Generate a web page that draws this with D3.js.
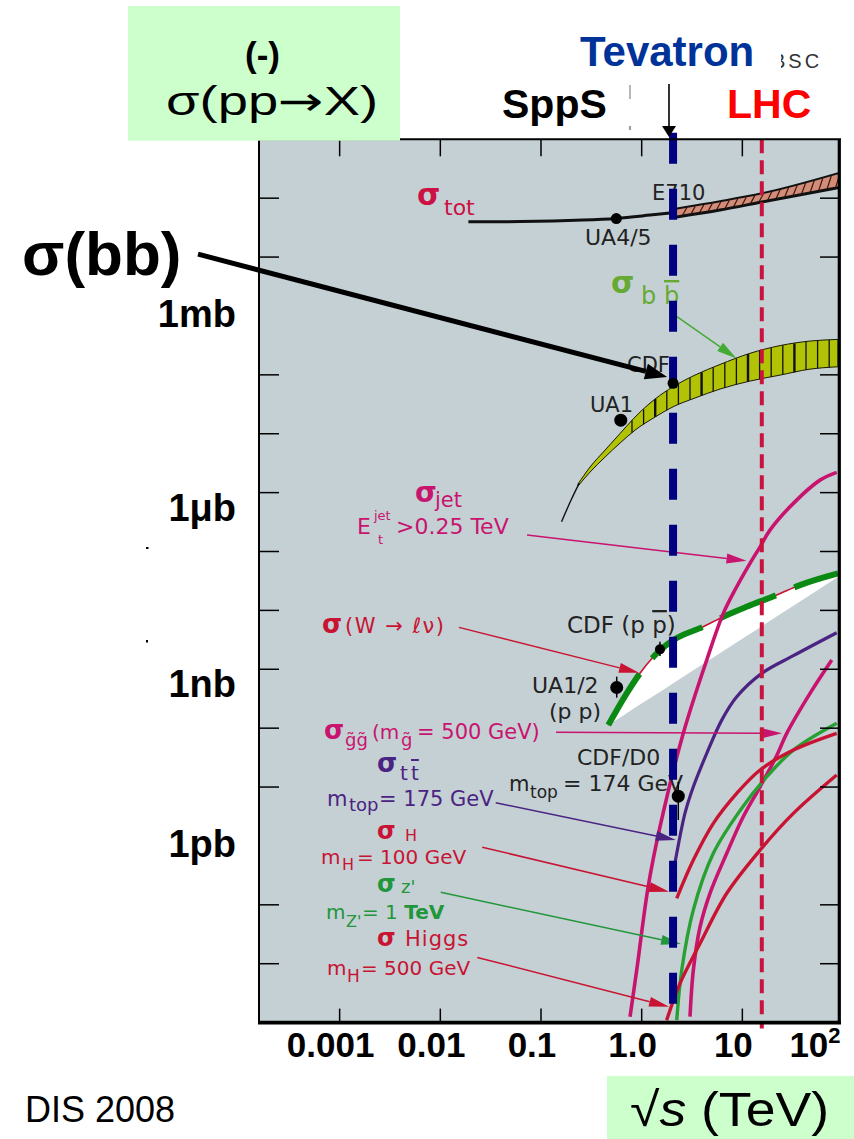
<!DOCTYPE html>
<html>
<head>
<meta charset="utf-8">
<script src="https://cdn.jsdelivr.net/npm/d3@7/dist/d3.min.js"></script>
<style>
html, body { margin: 0; padding: 0; background: #fff; }
svg { display: block; font-family: "Liberation Sans", Arial, sans-serif; }
</style>
</head>
<body>
<svg id="chart" width="854" height="1139"></svg>
<script>
// Cross sections versus centre-of-mass energy.
// Energies are √s in TeV, cross sections in nb.

// ---------- axes ----------
const xTickValues = [0.001, 0.01, 0.1, 1, 10];
const xLabelValues = [0.001, 0.01, 0.1, 1, 10, 100];
const xLabelText = ["0.001", "0.01", "0.1", "1.0", "10", "10"];
const yTickValues = [1e8, 1e7, 1e5, 1e4, 1e3, 1e2, 1e1, 1, 1e-1, 1e-2, 1e-4, 1e-5];
const yLabelValues = [1e6, 1e3, 1, 1e-3];
const yLabelText = ["1mb", "1μb", "1nb", "1pb"];

// ---------- collider energies ----------
const tevatronEnergy = 2.05;
const lhcEnergy = 15.6;

// ---------- total cross section ----------
const totLine = [[0.019, 3.97e7], [0.062, 4.0e7], [0.26, 4.25e7], [0.56, 4.54e7], [1.21, 5.16e7], [1.91, 5.6e7], [2.23, 5.75e7]];
const totEnergy = [2.23, 6.0, 15.6, 90];
const totUpper = [6.7e7, 8.9e7, 1.21e8, 2.67e8];
const totLower = [4.8e7, 6.3e7, 8.6e7, 1.51e8];

// ---------- b bbar ----------
const bbEnergy = [0.233, 0.307, 0.433, 0.61, 0.859, 1.356, 2.05, 3.38, 6.0, 11.9, 23.7, 47, 89];
const bbUpper = [1.40e3, 2.72e3, 5.28e3, 1.01e4, 1.92e4, 3.88e4, 6.28e4, 9.9e4, 1.5e5, 2.32e5, 3.14e5, 3.75e5, 4.0e5];
const bbLower = [1.29e3, 2.23e3, 4.02e3, 6.95e3, 1.15e4, 1.92e4, 2.87e4, 4.04e4, 5.74e4, 7.84e4, 9.9e4, 1.25e5, 1.37e5];
const bbTail = [[0.160, 320], [0.199, 750], [0.24, 1450]];

// ---------- W -> l nu ----------
const wUpper = [[0.466, 0.113], [0.71, 0.39], [0.962, 0.853], [1.31, 1.63], [2.06, 3.13], [4.09, 5.28], [6.47, 7.8], [11.0, 11.5], [21.9, 18.2], [37.4, 26.9], [89, 42.5]];
const wLower = [[0.466, 0.113], [89, 36.8]];

// ---------- jets, new states, top, Higgs ----------
const jetCurve = [[0.766, 1.26e-6], [0.893, 7.8e-6], [1.16, 2.03e-4], [1.52, 2.1e-3], [2.59, 0.0817], [4.43, 1.44], [6.47, 8.91], [8.79, 25.2], [11.9, 63], [15.0, 120], [18.8, 231], [32.1, 657], [59, 1630], [86.5, 2210]];
const gluinoCurve = [[3.02, 1.26e-6], [3.26, 7.8e-6], [3.80, 4.2e-5], [4.77, 1.57e-4], [7.0, 7.5e-4], [10.2, 3.13e-3], [15.0, 0.0101], [21.9, 0.034], [27.6, 0.0817], [47, 0.39], [77.3, 1.44]];
const topCurve = [[2.14, 5.06e-4], [2.23, 7.5e-4], [2.69, 3.57e-3], [3.26, 0.0101], [4.43, 0.0373], [6.24, 0.137], [8.79, 0.342], [15.6, 0.853], [32.1, 1.7], [86.5, 4.17]];
const higgs100Curve = [[2.23, 1.29e-4], [3.26, 5.75e-4], [5.15, 2.42e-3], [8.79, 7.8e-3], [15.0, 0.0195], [32.1, 0.0425], [86.5, 0.0817]];
const zprimeCurve = [[2.23, 1.1e-6], [2.50, 7.8e-6], [3.26, 8.2e-5], [5.15, 7.5e-4], [9.5, 4.0e-3], [17.5, 0.015], [32.1, 0.0425], [86.5, 0.121]];
const higgs500Curve = [[1.77, 1.1e-6], [2.40, 4.6e-6], [3.80, 2.2e-5], [7.0, 1.57e-4], [15.0, 8.5e-4], [32.1, 3.57e-3], [86.5, 0.016]];

// ---------- measurements: [√s, σ, σlow, σhigh] ----------
const measurements = [
  { name: "UA4/5", v: [0.56, 4.5e7], r: 5.5 },
  { name: "E710", v: [2.05, 5.9e7], r: 4 },
  { name: "UA1", v: [0.62, 1.7e4], r: 6.5 },
  { name: "CDF", v: [2.05, 7.2e4], r: 5.5 },
  { name: "UA1/2", v: [0.565, 0.49, 0.33, 0.75], r: 6.5 },
  { name: "CDF W", v: [1.52, 2.18, 1.68, 2.94], r: 5 },
  { name: "CDF/D0", v: [2.31, 7.0e-3, 2.75e-3, 0.0123], r: 6.5 }
];

// ---------- annotation arrows: from [√s, σ] to [√s, σ] ----------
const arrowFrom = [[0.0726, 190], [2.24, 9.7e5], [0.0153, 5.15], [0.141, 0.0849], [0.0355, 5.42e-3], [0.0261, 9.5e-4], [0.0101, 1.63e-4], [0.0233, 1.28e-5]];
const arrowTo = [[11.0, 69.7], [8.75, 1.9e5], [0.941, 0.873], [24.8, 0.0817], [2.18, 1.26e-3], [1.87, 1.67e-4], [2.46, 2.16e-5], [1.87, 1.86e-6]];
const arrowColor = ["#c8146e", "#44aa33", "#c81432", "#c8146e", "#4b2382", "#c81432", "#22963a", "#c81432"];
const bbArrow = [[3.92e-5, 1.12e7], [1.79, 9.2e4]];

// ================= drawing =================
const svg = d3.select("#chart");
const plot = { left: 259, right: 838, top: 139.3, bottom: 1022.6 };

const x = d3.scaleLog().domain([Math.pow(10, -3.801), Math.pow(10, 1.95)]).range([plot.left, plot.right]);
const y = d3.scaleLog().domain([1e-6, 1e9]).range([plot.bottom, plot.top]);

const defs = svg.append("defs");
defs.append("clipPath").attr("id", "plotClip").append("rect")
  .attr("x", plot.left).attr("y", plot.top)
  .attr("width", plot.right - plot.left).attr("height", plot.bottom - plot.top);
defs.append("clipPath").attr("id", "bscClip").append("rect")
  .attr("x", 781).attr("y", 40).attr("width", 60).attr("height", 40);

// plot background
svg.append("rect")
  .attr("x", plot.left).attr("y", plot.top)
  .attr("width", plot.right - plot.left).attr("height", plot.bottom - plot.top)
  .attr("fill", "#c5d0d5");

const g = svg.append("g").attr("clip-path", "url(#plotClip)");

const line = d3.line().x(d => x(d[0])).y(d => y(d[1])).curve(d3.curveMonotoneX);
const smooth = d3.line().x(d => x(d[0])).y(d => y(d[1])).curve(d3.curveCatmullRom.alpha(0.5));

function interpLog(xs, ys, v) {
  const lv = Math.log10(v);
  for (let i = 0; i < xs.length - 1; i++) {
    const a = Math.log10(xs[i]), b = Math.log10(xs[i + 1]);
    if (lv >= a && lv <= b) {
      const t = (lv - a) / (b - a);
      return Math.pow(10, Math.log10(ys[i]) * (1 - t) + Math.log10(ys[i + 1]) * t);
    }
  }
  return lv < Math.log10(xs[0]) ? ys[0] : ys[ys.length - 1];
}

// ---- total cross section band ----
const totArea = d3.area()
  .x((d, i) => x(totEnergy[i]))
  .y0((d, i) => y(totLower[i]))
  .y1((d, i) => y(totUpper[i]))
  .curve(d3.curveMonotoneX);
g.append("path").datum(totEnergy).attr("d", totArea).attr("fill", "#d28c78");
for (let px = x(totEnergy[0]) + 6; px < plot.right - 2; px += 8.5) {
  const e0 = x.invert(px), e1 = x.invert(px + 4);
  g.append("line")
    .attr("x1", px).attr("y1", y(interpLog(totEnergy, totLower, e0)) - 1)
    .attr("x2", px + 4).attr("y2", y(interpLog(totEnergy, totUpper, e1)) + 1)
    .attr("stroke", "#3a1a10").attr("stroke-width", 1.2);
}
g.append("path").datum(totEnergy.map((e, i) => [e, totUpper[i]])).attr("d", line)
  .attr("fill", "none").attr("stroke", "#111").attr("stroke-width", 2);
g.append("path").datum(totEnergy.map((e, i) => [e, totLower[i]])).attr("d", line)
  .attr("fill", "none").attr("stroke", "#111").attr("stroke-width", 3);
g.append("path").datum(totLine).attr("d", smooth)
  .attr("fill", "none").attr("stroke", "#111").attr("stroke-width", 3);

// ---- b bbar band ----
const bbArea = d3.area()
  .x((d, i) => x(bbEnergy[i]))
  .y0((d, i) => y(bbLower[i]))
  .y1((d, i) => y(bbUpper[i]))
  .curve(d3.curveMonotoneX);
g.append("path").datum(bbEnergy).attr("d", bbArea)
  .attr("fill", "#b2c204").attr("stroke", "#1a1a00").attr("stroke-width", 1);
let hatchIndex = 0;
for (let px = 632; px < plot.right - 4; px += 11.6) {
  const e = x.invert(px);
  g.append("line")
    .attr("x1", px).attr("x2", px)
    .attr("y1", y(interpLog(bbEnergy, bbLower, e)))
    .attr("y2", y(interpLog(bbEnergy, bbUpper, e)))
    .attr("stroke", "#111").attr("stroke-width", hatchIndex % 4 === 2 ? 2.4 : 1.3);
  hatchIndex++;
}
g.append("path").datum(bbTail).attr("d", smooth)
  .attr("fill", "none").attr("stroke", "#111").attr("stroke-width", 1.4);

// ---- W band ----
const wLowerX = wLower.map(d => d[0]), wLowerY = wLower.map(d => d[1]);
const wArea = d3.area()
  .x(d => x(d[0]))
  .y1(d => y(d[1]))
  .y0(d => y(interpLog(wLowerX, wLowerY, d[0])))
  .curve(d3.curveMonotoneX);
g.append("path").datum(wUpper).attr("d", wArea).attr("fill", "#ffffff");
g.append("path").datum(wUpper).attr("d", line)
  .attr("fill", "none").attr("stroke", "#c81432").attr("stroke-width", 1.6);
g.append("path").datum(wUpper).attr("d", line)
  .attr("fill", "none").attr("stroke", "#0a8a12").attr("stroke-width", 6)
  .attr("stroke-dasharray", "60,20");

// ---- other curves ----
const curves = [
  { d: jetCurve, c: "#c8146e", w: 3.6 },
  { d: topCurve, c: "#4b2382", w: 3.2 },
  { d: gluinoCurve, c: "#c8146e", w: 3.6 },
  { d: zprimeCurve, c: "#28a032", w: 3.4 },
  { d: higgs100Curve, c: "#c81432", w: 3.4 },
  { d: higgs500Curve, c: "#c81432", w: 3.4 }
];
curves.forEach(cv => {
  g.append("path").datum(cv.d).attr("d", smooth)
    .attr("fill", "none").attr("stroke", cv.c).attr("stroke-width", cv.w)
    .attr("stroke-linecap", "butt");
});

// ---- in-plot labels ----
const labelFont = "'DejaVu Sans', Verdana, sans-serif";
const labels = [
  { fill: "#cc1144", spans: [{ t: "σ", x: 417, y: 205, s: 30, w: "bold" }, { t: "tot", x: 444, y: 215, s: 22 }] },
  { fill: "#222", spans: [{ t: "E710", x: 652, y: 200, s: 21 }] },
  { fill: "#222", spans: [{ t: "UA4/5", x: 585, y: 245, s: 22 }] },
  { fill: "#66aa33", spans: [{ t: "σ", x: 611, y: 293, s: 30, w: "bold" }, { t: "b", x: 641, y: 304, s: 24 }, { t: "b", x: 664, y: 304, s: 24, o: true }] },
  { fill: "#222", spans: [{ t: "CDF", x: 627, y: 372, s: 21 }] },
  { fill: "#222", spans: [{ t: "UA1", x: 590, y: 412, s: 21 }] },
  { fill: "#c8146e", spans: [{ t: "σ", x: 415, y: 502, s: 28, w: "bold" }, { t: "jet", x: 435, y: 507, s: 21 }] },
  { fill: "#c8146e", spans: [{ t: "E", x: 357, y: 534, s: 22 }, { t: "jet", x: 374, y: 520, s: 13 }, { t: "t", x: 378, y: 544, s: 13 }, { t: ">0.25 TeV", x: 396, y: 534, s: 22 }] },
  { fill: "#c81432", spans: [{ t: "σ", x: 322, y: 633, s: 26, w: "bold" }, { t: "(W → ℓν)", x: 345, y: 633, s: 21, ls: 1.5 }] },
  { fill: "#222", spans: [{ t: "CDF (p ", x: 567, y: 633, s: 23 }, { t: "p", s: 23, o: true }, { t: ")", s: 23 }] },
  { fill: "#222", spans: [{ t: "UA1/2", x: 532, y: 693, s: 22 }] },
  { fill: "#222", spans: [{ t: "(p p)", x: 549, y: 719, s: 22 }] },
  { fill: "#c8146e", spans: [{ t: "σ", x: 324, y: 739, s: 26, w: "bold" }, { t: "g̃g̃", x: 345, y: 746, s: 18 }, { t: "(m", x: 372, y: 739, s: 20 }, { t: "g̃", x: 401, y: 746, s: 18 }, { t: "= 500 GeV)", x: 417, y: 739, s: 21 }] },
  { fill: "#222", spans: [{ t: "CDF/D0", x: 577, y: 765, s: 22 }] },
  { fill: "#222", spans: [{ t: "m", x: 509, y: 791, s: 21 }, { t: "top", x: 530, y: 798, s: 17 }, { t: "= 174 GeV", x: 563, y: 791, s: 22 }] },
  { fill: "#4b2382", spans: [{ t: "σ", x: 377, y: 772, s: 26, w: "bold" }, { t: "t", x: 400, y: 780, s: 20 }, { t: "t", x: 411, y: 780, s: 20, o: true }] },
  { fill: "#4b2382", spans: [{ t: "m", x: 327, y: 806, s: 21 }, { t: "top", x: 349, y: 811, s: 18 }, { t: "= 175 GeV", x: 379, y: 806, s: 21 }] },
  { fill: "#c81432", spans: [{ t: "σ", x: 377, y: 839, s: 24, w: "bold" }, { t: "H", x: 405, y: 841, s: 16 }] },
  { fill: "#c81432", spans: [{ t: "m", x: 321, y: 864, s: 20 }, { t: "H", x: 342, y: 870, s: 16 }, { t: "= 100 GeV", x: 357, y: 864, s: 20 }] },
  { fill: "#22963a", spans: [{ t: "σ", x: 377, y: 891.5, s: 24, w: "bold" }, { t: "z'", x: 401, y: 893, s: 18 }] },
  { fill: "#22963a", spans: [{ t: "m", x: 326, y: 918.5, s: 20 }, { t: "Z'", x: 346, y: 927, s: 16 }, { t: "= 1 ", x: 362, y: 918.5, s: 20 }, { t: "TeV", s: 20, w: "bold" }] },
  { fill: "#c81432", spans: [{ t: "σ", x: 377, y: 946, s: 24, w: "bold" }, { t: "Higgs", x: 405, y: 946, s: 21, ls: 1 }] },
  { fill: "#c81432", spans: [{ t: "m", x: 327, y: 975, s: 20 }, { t: "H", x: 347, y: 982, s: 17 }, { t: "= 500 GeV", x: 361, y: 975, s: 20 }] }
];
const labelLayer = svg.append("g").attr("font-family", labelFont);
labels.forEach(lb => {
  const t = labelLayer.append("text").attr("fill", lb.fill);
  lb.spans.forEach(sp => {
    const s = t.append("tspan").text(sp.t).attr("font-size", sp.s);
    if (sp.x !== undefined) s.attr("x", sp.x);
    if (sp.y !== undefined) s.attr("y", sp.y);
    if (sp.w) s.attr("font-weight", sp.w);
    if (sp.o) s.attr("text-decoration", "overline");
    if (sp.ls) s.attr("letter-spacing", sp.ls);
  });
});

// ---- arrows ----
function arrow(parent, p0, p1, color, width, headLen, headHalf) {
  const ang = Math.atan2(p1[1] - p0[1], p1[0] - p0[0]);
  const bx = p1[0] - headLen * Math.cos(ang), by = p1[1] - headLen * Math.sin(ang);
  parent.append("line")
    .attr("x1", p0[0]).attr("y1", p0[1]).attr("x2", bx).attr("y2", by)
    .attr("stroke", color).attr("stroke-width", width);
  const nx = -Math.sin(ang) * headHalf, ny = Math.cos(ang) * headHalf;
  parent.append("path")
    .attr("d", `M${p1[0]},${p1[1]}L${bx + nx},${by + ny}L${bx - nx},${by - ny}Z`)
    .attr("fill", color);
}
const arrowLayer = svg.append("g");
arrowFrom.forEach((f, i) => {
  arrow(arrowLayer, [x(f[0]), y(f[1])], [x(arrowTo[i][0]), y(arrowTo[i][1])], arrowColor[i], 1.5, 20, 5);
});

// ---- collider lines ----
const tevX = x(tevatronEnergy);
svg.append("line")
  .attr("x1", tevX).attr("x2", tevX).attr("y1", plot.top - 6.6).attr("y2", plot.bottom)
  .attr("stroke", "#000080").attr("stroke-width", 8).attr("stroke-dasharray", "31,25");
const lhcX = x(lhcEnergy);
svg.append("line")
  .attr("x1", lhcX).attr("x2", lhcX).attr("y1", plot.top).attr("y2", plot.bottom + 6)
  .attr("stroke", "#c8143c").attr("stroke-width", 4).attr("stroke-dasharray", "14,7");

// ---- measurements ----
measurements.forEach(m => {
  const cx = x(m.v[0]), cy = y(m.v[1]);
  if (m.v.length > 2) {
    svg.append("line").attr("x1", cx).attr("x2", cx)
      .attr("y1", y(m.v[2])).attr("y2", y(m.v[3]))
      .attr("stroke", "#000").attr("stroke-width", 1.5);
  }
  svg.append("circle").attr("cx", cx).attr("cy", cy).attr("r", m.r)
    .attr("fill", m.name === "E710" ? "#000080" : "#000");
});

// ---- frame and ticks ----
const frame = svg.append("g").attr("stroke", "#000");
frame.append("line").attr("x1", plot.left).attr("x2", plot.left).attr("y1", plot.top).attr("y2", plot.bottom).attr("stroke-width", 2);
frame.append("line").attr("x1", plot.right + 1.3).attr("x2", plot.right + 1.3).attr("y1", plot.top).attr("y2", plot.bottom).attr("stroke-width", 3.2);
frame.append("line").attr("x1", plot.left).attr("x2", plot.right + 3).attr("y1", plot.top).attr("y2", plot.top).attr("stroke-width", 2);
frame.append("line").attr("x1", plot.left - 1).attr("x2", plot.right + 3).attr("y1", plot.bottom).attr("y2", plot.bottom).attr("stroke-width", 3.6);
yTickValues.forEach(v => {
  frame.append("line").attr("x1", plot.left).attr("x2", plot.left + 20).attr("y1", y(v)).attr("y2", y(v)).attr("stroke-width", 1.5);
  frame.append("line").attr("x1", plot.right - 18).attr("x2", plot.right).attr("y1", y(v)).attr("y2", y(v)).attr("stroke-width", 1.5);
});
xTickValues.forEach(v => {
  frame.append("line").attr("x1", x(v)).attr("x2", x(v)).attr("y1", plot.top).attr("y2", plot.top + 17).attr("stroke-width", 1.5);
  frame.append("line").attr("x1", x(v)).attr("x2", x(v)).attr("y1", plot.bottom).attr("y2", plot.bottom - 14).attr("stroke-width", 1.5);
});

// ---- σ(bb) pointer ----
arrow(svg, [x(bbArrow[0][0]), y(bbArrow[0][1])], [x(bbArrow[1][0]), y(bbArrow[1][1])], "#000", 5, 22, 8);

// ---- axis labels ----
const xl = svg.append("g").attr("font-weight", "bold").attr("font-size", 35).attr("fill", "#000").attr("text-anchor", "middle");
xLabelValues.forEach((v, i) => {
  let cx = x(v) - 9;
  const t = xl.append("text").attr("y", 1057);
  t.append("tspan").text(xLabelText[i]);
  if (v === 100) {
    t.append("tspan").text("2").attr("font-size", 22).attr("dy", -14);
    cx = Math.min(cx, 842 - 27);
  }
  t.attr("x", cx);
});

const yLabelNudge = [-2, 15, 14, -2];
const yl = svg.append("g").attr("font-weight", "bold").attr("font-size", 38).attr("fill", "#000").attr("text-anchor", "end");
yLabelValues.forEach((v, i) => {
  yl.append("text").attr("x", 236).attr("y", y(v) + 13.5 + yLabelNudge[i]).text(yLabelText[i]);
});
svg.append("rect").attr("x", 146).attr("y", 547).attr("width", 2.5).attr("height", 2).attr("fill", "#000");
svg.append("rect").attr("x", 146).attr("y", 640).attr("width", 2).attr("height", 2.5).attr("fill", "#000");

svg.append("text").attr("x", 22).attr("y", 275).attr("font-size", 62).attr("font-weight", "bold").text("σ(bb)");

// ---- header ----
svg.append("rect").attr("x", 128).attr("y", 6).attr("width", 272).attr("height", 134.7).attr("fill", "#ccffcc");
const title = svg.append("text").attr("x", 166).attr("y", 115).attr("font-size", 40)
  .attr("textLength", 212).attr("lengthAdjust", "spacingAndGlyphs");
title.append("tspan").text("σ(pp");
title.append("tspan").text("→").attr("font-family", "'DejaVu Sans', sans-serif").attr("font-size", 40);
title.append("tspan").text("X)");
svg.append("text").attr("x", 245).attr("y", 67).attr("font-size", 35).attr("font-weight", "bold").text("(-)");

svg.append("text").attr("x", 580).attr("y", 66).attr("font-size", 42).attr("font-weight", "bold").attr("fill", "#003399").text("Tevatron");
svg.append("text").attr("x", 772).attr("y", 68).attr("font-size", 20).attr("fill", "#333").attr("letter-spacing", 3)
  .attr("clip-path", "url(#bscClip)").text("BSC");
svg.append("text").attr("x", 502).attr("y", 118).attr("font-size", 41).attr("font-weight", "bold").attr("fill", "#000").text("SppS");
svg.append("text").attr("x", 727).attr("y", 118).attr("font-size", 41).attr("font-weight", "bold").attr("fill", "#ff0000").text("LHC");

// Tevatron pointer and small marks above the frame
svg.append("line").attr("x1", 669).attr("x2", 669).attr("y1", 84).attr("y2", 128).attr("stroke", "#000").attr("stroke-width", 1.6);
svg.append("path").attr("d", "M669,137L662,126L676,126Z").attr("fill", "#000");
svg.append("line").attr("x1", 630).attr("x2", 630).attr("y1", 85).attr("y2", 99).attr("stroke", "#888").attr("stroke-width", 1.2);
svg.append("line").attr("x1", 630).attr("x2", 630).attr("y1", 126).attr("y2", 130).attr("stroke", "#555").attr("stroke-width", 1.2);

// ---- footer ----
svg.append("text").attr("x", 25).attr("y", 1122).attr("font-size", 36).attr("fill", "#000").text("DIS 2008");
svg.append("rect").attr("x", 607).attr("y", 1076).attr("width", 247).attr("height", 63).attr("fill", "#ccffcc");
const sq = svg.append("text").attr("x", 630).attr("y", 1126).attr("font-size", 48).attr("fill", "#000")
  .attr("textLength", 199).attr("lengthAdjust", "spacingAndGlyphs");
sq.append("tspan").text("√");
sq.append("tspan").text("s").attr("font-style", "italic");
sq.append("tspan").text(" (TeV)");
</script>
</body>
</html>
